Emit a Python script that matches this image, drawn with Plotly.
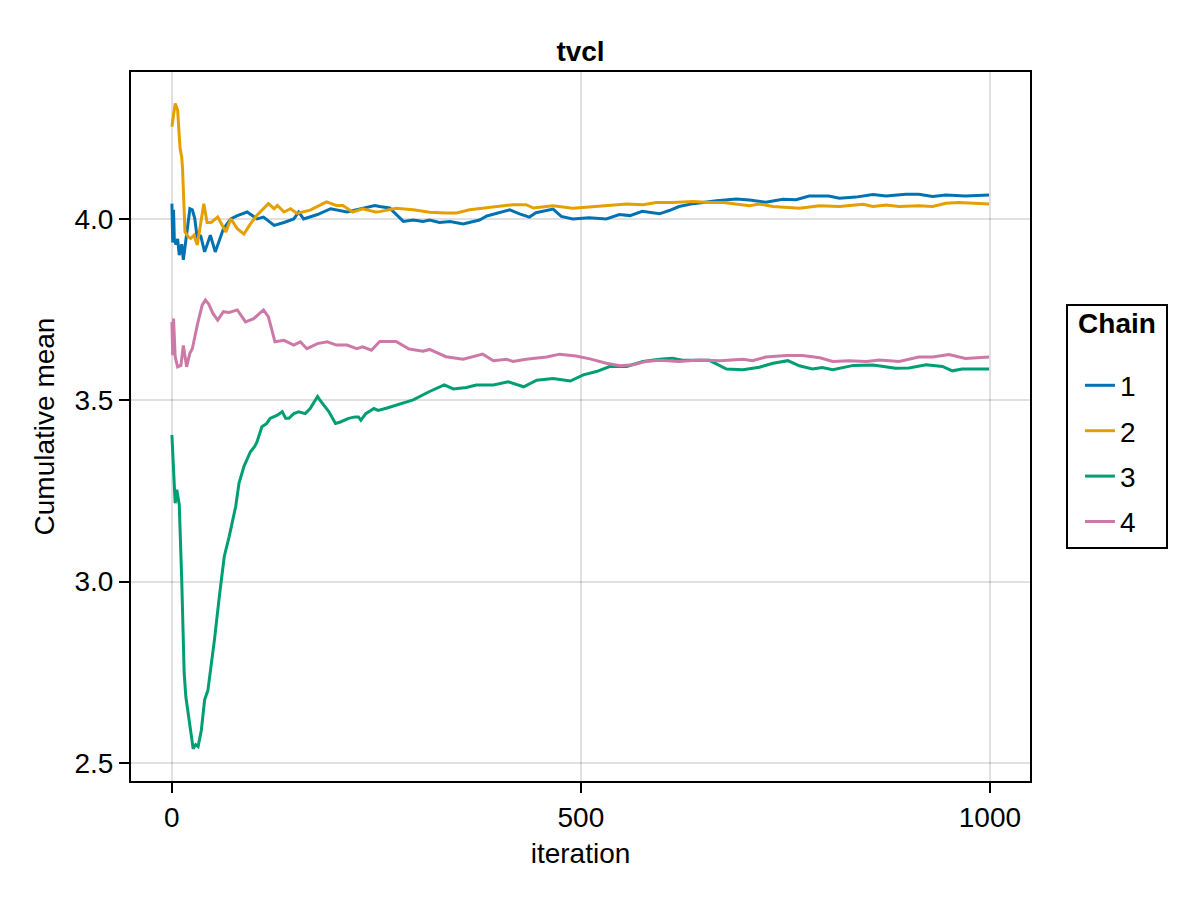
import plotly.graph_objects as go

# cumulative mean of tvcl per chain
chain1_iter = [0, 1, 2, 3, 5, 7, 9, 12, 14, 18, 22, 25, 28, 31, 35, 40, 44, 47, 53, 58, 63, 72, 80, 92,
               104, 112, 125, 137, 149, 155, 161, 178, 194, 214, 233, 248, 254, 266, 283, 295, 307, 315,
               327, 340, 356, 376, 385, 397, 413, 425, 437, 445, 466, 476, 490, 510, 531, 547, 560, 575,
               596, 608, 620, 637, 657, 666, 690, 706, 726, 747, 763, 779, 803, 816, 836, 857, 873, 897,
               913, 930, 946, 970, 999]
chain1_mean = [4.042, 3.935, 4.025, 3.94, 3.93, 3.945, 3.90, 3.93, 3.887, 3.96, 4.028, 4.025, 4.0, 3.946,
               3.955, 3.909, 3.935, 3.955, 3.909, 3.94, 3.973, 4.0, 4.009, 4.019, 4.0, 4.005, 3.982, 3.99,
               4.0, 4.019, 4.0, 4.012, 4.028, 4.019, 4.028, 4.037, 4.034, 4.03, 3.993, 3.997, 3.993, 3.997,
               3.99, 3.993, 3.986, 3.997, 4.008, 4.016, 4.025, 4.014, 4.005, 4.017, 4.027, 4.007, 4.0,
               4.003, 4.0, 4.012, 4.009, 4.021, 4.014, 4.023, 4.034, 4.042, 4.048, 4.05, 4.055, 4.052,
               4.046, 4.054, 4.053, 4.063, 4.063, 4.057, 4.06, 4.067, 4.063, 4.068, 4.068, 4.062, 4.066,
               4.063, 4.066]

chain2_iter = [0, 2, 4, 7, 10, 12, 13, 16, 20, 23, 27, 31, 35, 39, 43, 48, 56, 66, 72, 80, 88, 96, 104,
               118, 125, 129, 137, 145, 153, 169, 189, 201, 209, 221, 233, 249, 254, 274, 295, 315, 335,
               348, 364, 380, 397, 417, 433, 442, 466, 490, 506, 531, 556, 576, 592, 612, 637, 657, 674,
               706, 718, 735, 767, 792, 816, 845, 857, 873, 889, 913, 930, 946, 962, 999]
chain2_mean = [4.254, 4.29, 4.318, 4.30, 4.194, 4.17, 4.139, 3.964, 3.95, 3.946, 3.955, 3.928, 3.98, 4.042,
               3.99, 3.99, 4.005, 3.964, 4.0, 3.973, 3.958, 3.986, 4.01, 4.042, 4.028, 4.037, 4.019, 4.028,
               4.015, 4.024, 4.047, 4.037, 4.037, 4.019, 4.028, 4.019, 4.020, 4.029, 4.025, 4.018, 4.016,
               4.016, 4.025, 4.029, 4.034, 4.039, 4.039, 4.030, 4.036, 4.029, 4.032, 4.036, 4.041, 4.039,
               4.045, 4.045, 4.048, 4.045, 4.045, 4.036, 4.041, 4.034, 4.029, 4.036, 4.034, 4.040, 4.034,
               4.038, 4.034, 4.036, 4.034, 4.043, 4.045, 4.041]

chain3_iter = [0, 2, 4, 6, 9, 12, 15, 17, 22, 26, 29, 32, 36, 40, 44, 47, 52, 58, 64, 70, 74, 78, 82, 88,
               96, 101, 104, 110, 116, 120, 129, 135, 139, 143, 149, 155, 163, 169, 178, 181, 192, 200,
               206, 216, 224, 228, 231, 237, 247, 252, 262, 274, 295, 315, 333, 344, 360, 372, 393, 411,
               430, 446, 466, 487, 503, 519, 535, 556, 576, 596, 612, 624, 645, 657, 678, 698, 718, 735,
               753, 767, 783, 795, 808, 833, 857, 885, 901, 922, 942, 954, 966, 999]
chain3_mean = [3.404, 3.30, 3.216, 3.253, 3.212, 3.005, 2.748, 2.683, 2.594, 2.539, 2.55, 2.545, 2.59,
               2.674, 2.70, 2.748, 2.839, 2.959, 3.069, 3.124, 3.170, 3.207, 3.271, 3.317, 3.358, 3.372,
               3.385, 3.427, 3.436, 3.45, 3.459, 3.468, 3.45, 3.45, 3.463, 3.468, 3.463, 3.477, 3.51, 3.50,
               3.468, 3.436, 3.44, 3.45, 3.454, 3.454, 3.445, 3.463, 3.477, 3.472, 3.478, 3.487, 3.501,
               3.524, 3.542, 3.531, 3.535, 3.542, 3.542, 3.551, 3.537, 3.555, 3.56, 3.553, 3.57, 3.579,
               3.593, 3.593, 3.607, 3.613, 3.616, 3.610, 3.611, 3.61, 3.586, 3.584, 3.591, 3.602, 3.609,
               3.595, 3.586, 3.59, 3.584, 3.596, 3.597, 3.588, 3.589, 3.598, 3.593, 3.581, 3.586, 3.586]

chain4_iter = [0, 1, 2, 4, 7, 11, 14, 18, 22, 25, 31, 37, 41, 45, 50, 56, 63, 70, 80, 90, 100, 112, 118,
               126, 137, 149, 157, 165, 178, 190, 201, 214, 226, 233, 244, 254, 274, 290, 307, 315, 335,
               356, 380, 393, 409, 417, 433, 458, 474, 494, 511, 531, 548, 564, 580, 596, 620, 645, 670,
               698, 710, 726, 751, 771, 792, 808, 828, 849, 865, 889, 913, 930, 950, 970, 999]
chain4_mean = [3.716, 3.624, 3.725, 3.62, 3.592, 3.596, 3.651, 3.592, 3.63, 3.642, 3.707, 3.762, 3.776,
               3.765, 3.74, 3.721, 3.744, 3.742, 3.749, 3.716, 3.725, 3.749, 3.73, 3.661, 3.665, 3.652,
               3.661, 3.642, 3.656, 3.661, 3.652, 3.652, 3.642, 3.647, 3.638, 3.662, 3.662, 3.641, 3.635,
               3.640, 3.620, 3.613, 3.627, 3.609, 3.613, 3.607, 3.613, 3.619, 3.627, 3.622, 3.614, 3.602,
               3.595, 3.598, 3.607, 3.61, 3.607, 3.611, 3.609, 3.613, 3.609, 3.619, 3.623, 3.623, 3.617,
               3.607, 3.609, 3.607, 3.611, 3.607, 3.619, 3.619, 3.626, 3.615, 3.619]

chain_names = ["1", "2", "3", "4"]
chain_colors = ["#0072B2", "#E69F00", "#009E73", "#CC79A7"]  # Makie / Wong palette

x_ticks = [0, 500, 1000]
y_ticks = [2.5, 3.0, 3.5, 4.0]

FONT = "Liberation Sans, Arial, sans-serif"
FS = 28

fig = go.Figure()
series = [(chain1_iter, chain1_mean), (chain2_iter, chain2_mean),
          (chain3_iter, chain3_mean), (chain4_iter, chain4_mean)]
for (xs, ys), name, color in zip(series, chain_names, chain_colors):
    fig.add_trace(go.Scatter(
        x=xs, y=ys, mode="lines", name=name, legendgroup=name,
        line=dict(color=color, width=3),
    ))

axis_common = dict(
    showline=True, linecolor="black", linewidth=2, mirror=True,
    showgrid=True, gridcolor="rgba(0,0,0,0.12)", gridwidth=2,
    zeroline=False,
    ticks="outside", ticklen=10, tickwidth=2, tickcolor="black",
    tickfont=dict(size=FS, color="black", family=FONT),
)

# the page has an 8px body margin, so margins are shifted by 8
fig.update_layout(
    width=1200, height=900,
    paper_bgcolor="white", plot_bgcolor="white",
    font=dict(family=FONT, size=FS, color="black"),
    margin=dict(l=123, r=178, t=64, b=127),
    title=dict(text="<b>tvcl</b>", x=0.5, xref="paper", xanchor="center",
               y=1 - 43 / 900, yanchor="middle", font=dict(size=FS)),
    xaxis=dict(axis_common, range=[-50, 1049], tickvals=x_ticks,
               title=dict(text="iteration", standoff=12, font=dict(size=FS))),
    yaxis=dict(axis_common, range=[2.45, 4.405], tickvals=y_ticks, tickformat=".1f",
               title=dict(text="Cumulative mean", standoff=12, font=dict(size=FS))),
    legend=dict(
        title=dict(text="<span style='font-size:28px'>&nbsp;<b>Chain</b>&nbsp;</span><br> ",
                   font=dict(size=21), side="top center"),
        x=1.04, xanchor="left", y=0.5, yanchor="middle",
        bordercolor="black", borderwidth=2, bgcolor="white",
        font=dict(size=FS), tracegroupgap=6, indentation=12,
    ),
)

fig.write_html("out.html")
